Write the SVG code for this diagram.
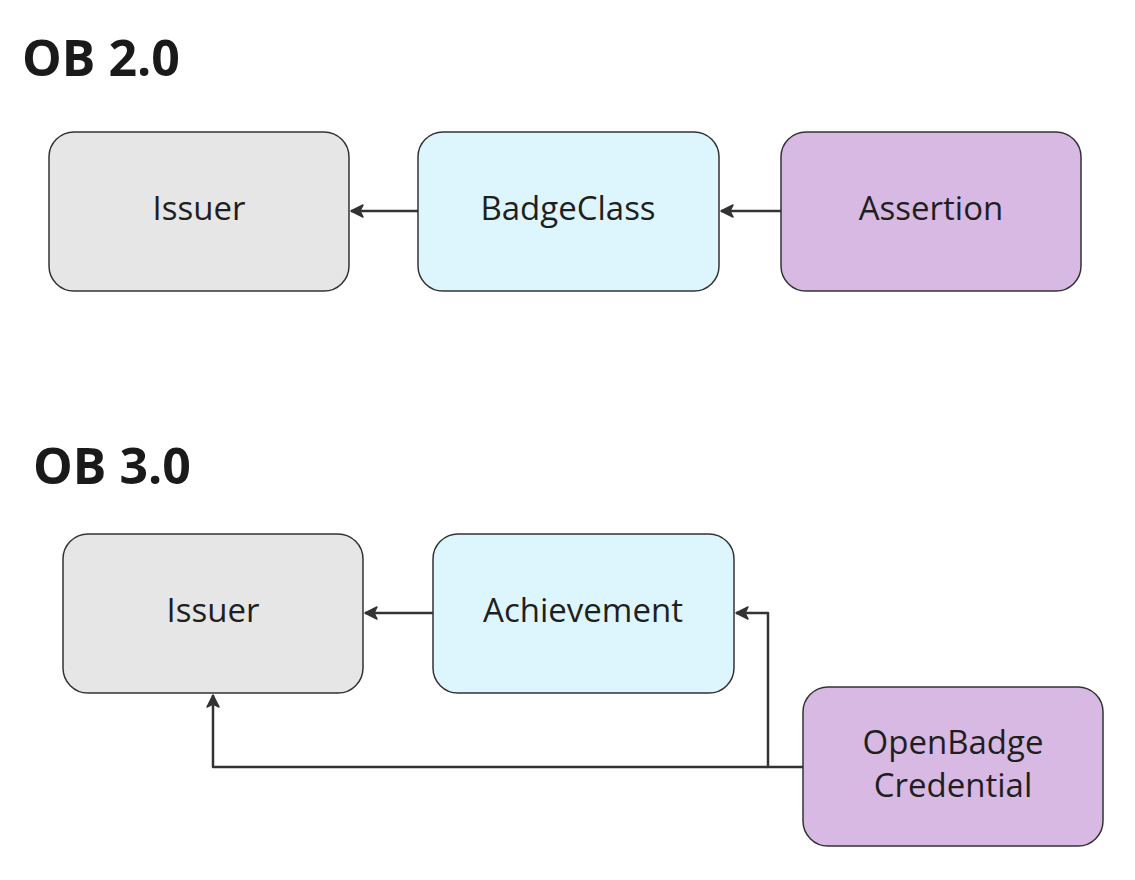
<svg xmlns="http://www.w3.org/2000/svg" width="1135" height="880" viewBox="0 0 1135 880">
<style>
.title{font-family:"Open Sans","Liberation Sans",sans-serif;font-weight:700;font-size:50px;fill:#1a1a1a}
.box{stroke:#333;stroke-width:1.5}
.gray{fill:#e6e6e6}.blue{fill:#ddf6fd}.purple{fill:#d7b9e3}
.lbl{font-family:"Open Sans","Liberation Sans",sans-serif;font-size:33px;fill:#1f1f1f;text-anchor:middle}
.conn{fill:none;stroke:#333;stroke-width:2.5;stroke-linejoin:round}
</style>
<defs>
<marker id="arr" viewBox="0 0 10 10" refX="9" refY="5" markerWidth="6" markerHeight="6" orient="auto" markerUnits="strokeWidth">
<path d="M1,1 L9,5 L1,9 L3,5 Z" fill="#333" stroke="#333" stroke-width="1" stroke-linejoin="round"/>
</marker>
</defs>
<rect width="1135" height="880" fill="#fff"/>
<text class="title" x="22" y="76">OB 2.0</text>
<text class="title" x="33" y="484">OB 3.0</text>
<g id="connectors">
<path class="conn" d="M418,211 H351" marker-end="url(#arr)"/>
<path class="conn" d="M781,211 H721" marker-end="url(#arr)"/>
<path class="conn" d="M433,613 H365" marker-end="url(#arr)"/>
<path class="conn" d="M803,767 H768 V613 H736" marker-end="url(#arr)"/>
<path class="conn" d="M768,767 H213 V695" marker-end="url(#arr)"/>
</g>
<g id="issuer2"><rect class="box gray" x="49" y="132" width="300" height="159" rx="25"/><text class="lbl" x="199" y="220">Issuer</text></g>
<g id="badgeclass"><rect class="box blue" x="418" y="132" width="301" height="159" rx="25"/><text class="lbl" x="568" y="220">BadgeClass</text></g>
<g id="assertion"><rect class="box purple" x="781" y="132" width="300" height="159" rx="25"/><text class="lbl" x="931" y="220">Assertion</text></g>
<g id="issuer3"><rect class="box gray" x="63" y="534" width="300" height="159" rx="25"/><text class="lbl" x="213" y="622">Issuer</text></g>
<g id="achievement"><rect class="box blue" x="433" y="534" width="301" height="159" rx="25"/><text class="lbl" x="583" y="622">Achievement</text></g>
<g id="credential"><rect class="box purple" x="803" y="687" width="300" height="159" rx="25"/><text class="lbl" x="953" y="754">OpenBadge</text><text class="lbl" x="953" y="797">Credential</text></g>
</svg>
